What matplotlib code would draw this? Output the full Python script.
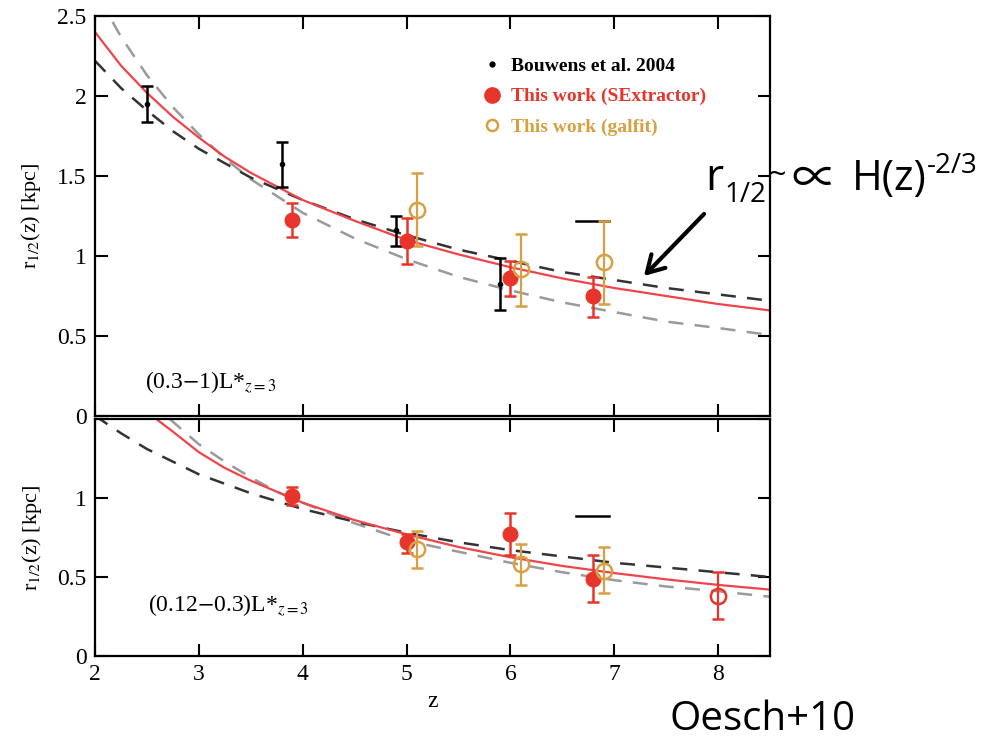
import matplotlib

matplotlib.use("Agg")
import matplotlib.pyplot as plt
from matplotlib.lines import Line2D
from matplotlib.patches import FancyArrowPatch

plt.rcParams["font.family"] = ["Liberation Serif", "DejaVu Serif"]
plt.rcParams["mathtext.fontset"] = "stix"

RED = "#e8352b"
GOLD = "#d6a043"

# ---- top panel: (0.3-1) L*_{z=3} ----
bou_z = [2.5, 3.8, 4.9, 5.9]
bou_r = [1.95, 1.575, 1.16, 0.825]
bou_lo = [0.11, 0.145, 0.10, 0.165]
bou_hi = [0.11, 0.135, 0.09, 0.165]

sex_z = [3.9, 5.0, 6.0, 6.8]
sex_r = [1.225, 1.095, 0.86, 0.75]
sex_lo = [0.105, 0.145, 0.11, 0.13]
sex_hi = [0.105, 0.145, 0.11, 0.12]

gal_z = [5.1, 6.1, 6.9]
gal_r = [1.29, 0.92, 0.96]
gal_lo = [0.23, 0.23, 0.26]
gal_hi = [0.23, 0.22, 0.26]

# stray black bar near z~6.8
bar_top_z = [6.63, 6.95]
bar_top_r = [1.22, 1.22]

# curves
curve_z = [2.0, 2.25, 2.5, 2.75, 3.0, 3.25, 3.5, 4.0, 4.5, 5.0, 5.5, 6.0, 6.5, 7.0, 7.5, 8.0, 8.5]
top_fit = [2.40, 2.19, 2.02, 1.87, 1.74, 1.62, 1.52, 1.35, 1.22, 1.10, 1.01, 0.93, 0.86,
           0.80, 0.75, 0.70, 0.66]
top_black = [2.22, 2.05, 1.91, 1.78, 1.67, 1.58, 1.49, 1.35, 1.23, 1.13, 1.04, 0.97, 0.90,
             0.85, 0.80, 0.76, 0.72]
top_gray = [2.66, 2.37, 2.13, 1.93, 1.76, 1.61, 1.48, 1.27, 1.11, 0.98, 0.87, 0.785, 0.71,
            0.65, 0.59, 0.55, 0.506]

# ---- bottom panel: (0.12-0.3) L*_{z=3} ----
sex2_z = [3.9, 5.0, 6.0, 6.8]
sex2_r = [1.01, 0.72, 0.77, 0.49]
sex2_lo = [0.055, 0.07, 0.13, 0.15]
sex2_hi = [0.06, 0.05, 0.135, 0.15]

z8_z = [8.0]
z8_r = [0.38]
z8_lo = [0.145]
z8_hi = [0.15]

gal2_z = [5.1, 6.1, 6.9]
gal2_r = [0.675, 0.58, 0.54]
gal2_lo = [0.115, 0.13, 0.14]
gal2_hi = [0.115, 0.13, 0.15]

bar_bot_z = [6.63, 6.95]
bar_bot_r = [0.885, 0.885]

fit2_z = [2.59, 2.75, 3.0, 3.25, 3.5, 3.75, 4.0, 4.5, 5.0, 5.5, 6.0, 6.5, 7.0, 7.5, 8.0, 8.5]
fit2_r = [1.50, 1.42, 1.29, 1.19, 1.11, 1.04, 0.97, 0.86, 0.77, 0.69, 0.625, 0.57, 0.525,
          0.485, 0.45, 0.42]
black2_z = [2.0, 2.25, 2.5, 2.75, 3.0, 3.25, 3.5, 3.75, 4.0, 4.5, 5.0, 5.5, 6.0, 6.5, 7.0,
            7.5, 8.0, 8.5]
black2_r = [1.52, 1.41, 1.31, 1.23, 1.15, 1.09, 1.03, 0.98, 0.93, 0.85, 0.78, 0.72, 0.67,
            0.63, 0.59, 0.56, 0.53, 0.50]
gray2_z = [2.72, 3.0, 3.25, 3.5, 3.75, 4.0, 4.5, 5.0, 5.5, 6.0, 6.5, 7.0, 7.5, 8.0, 8.5]
gray2_r = [1.50, 1.34, 1.23, 1.13, 1.04, 0.97, 0.84, 0.73, 0.66, 0.59, 0.53, 0.48, 0.44,
           0.41, 0.375]

W, H = 983, 739
fig = plt.figure(figsize=(W / 100, H / 100), dpi=100)
ax1 = fig.add_axes([95 / W, (H - 416) / H, 675 / W, 400 / H])
ax2 = fig.add_axes([95 / W, (H - 656) / H, 675 / W, 237 / H])

dash = (0, (6, 4.5))


def style(ax):
    for s in ax.spines.values():
        s.set_linewidth(1.6)
    ax.tick_params(direction="in", length=9, width=1.5, top=True, right=True,
                   labelsize=17, pad=6)
    ax.set_xlim(2, 8.5)
    ax.set_xticks([2, 3, 4, 5, 6, 7, 8])


# top panel
ax1.plot(curve_z, top_gray, ls=dash, color="#9a9a9a", lw=1.8)
ax1.plot(curve_z, top_black, ls=dash, color="#333333", lw=1.8)
ax1.plot(curve_z, top_fit, color="#f0444a", lw=1.6)
ax1.errorbar(bou_z, bou_r, yerr=[bou_lo, bou_hi], fmt="o", color="black", ms=3,
             elinewidth=1.8, capsize=4, capthick=1.8)
ax1.plot(bar_top_z, bar_top_r, color="black", lw=1.8)
ax1.errorbar(sex_z, sex_r, yerr=[sex_lo, sex_hi], fmt="o", color=RED, ms=10.5,
             elinewidth=1.8, capsize=4.5, capthick=1.8)
ax1.errorbar(gal_z, gal_r, yerr=[gal_lo, gal_hi], fmt="o", color=GOLD, mfc="none",
             mew=1.8, ms=11, elinewidth=1.6, capsize=4, capthick=1.6)
style(ax1)
ax1.set_ylim(0, 2.5)
ax1.set_yticks([0, 0.5, 1, 1.5, 2, 2.5])
ax1.set_yticklabels(["0", "0.5", "1", "1.5", "2", "2.5"])
ax1.tick_params(labelbottom=False)
ax1.set_ylabel(r"r$_{1/2}$(z) [kpc]", fontsize=16, labelpad=10)
ax1.text(0.074, 0.085, r"(0.3$-$1)L*$_{z=3}$", transform=ax1.transAxes,
         fontsize=17, va="center")

handles = [
    Line2D([], [], ls="none", marker="o", ms=3.5, color="black"),
    Line2D([], [], ls="none", marker="o", ms=11, color=RED),
    Line2D([], [], ls="none", marker="o", ms=8, mfc="none", mew=1.8, color=GOLD),
]
ax1.legend(handles, ["Bouwens et al. 2004", "This work (SExtractor)", "This work (galfit)"],
           loc="upper left", bbox_to_anchor=(0.55, 0.94), frameon=False,
           prop={"weight": "bold", "size": 14}, handlelength=0.8, handletextpad=0.6,
           labelspacing=0.65, labelcolor=["black", RED, GOLD])

# bottom panel
ax2.plot(gray2_z, gray2_r, ls=dash, color="#9a9a9a", lw=1.8)
ax2.plot(black2_z, black2_r, ls=dash, color="#333333", lw=1.8)
ax2.plot(fit2_z, fit2_r, color="#f0444a", lw=1.6)
ax2.plot(bar_bot_z, bar_bot_r, color="black", lw=1.8)
ax2.errorbar(sex2_z, sex2_r, yerr=[sex2_lo, sex2_hi], fmt="o", color=RED, ms=10.5,
             elinewidth=1.8, capsize=4.5, capthick=1.8)
ax2.errorbar(z8_z, z8_r, yerr=[z8_lo, z8_hi], fmt="o", color=RED, mfc="none",
             mew=1.8, ms=11, elinewidth=1.6, capsize=4.5, capthick=1.6)
ax2.errorbar(gal2_z, gal2_r, yerr=[gal2_lo, gal2_hi], fmt="o", color=GOLD, mfc="none",
             mew=1.8, ms=11, elinewidth=1.6, capsize=4, capthick=1.6)
style(ax2)
ax2.set_ylim(0, 1.5)
ax2.set_yticks([0, 0.5, 1, 1.5])
ax2.set_yticklabels(["0", "0.5", "1", ""])
ax2.set_xticklabels(["2", "3", "4", "5", "6", "7", "8"])
ax2.set_xlabel("z", fontsize=17, labelpad=4)
ax2.set_ylabel(r"r$_{1/2}$(z) [kpc]", fontsize=16, labelpad=10)
ax2.text(0.078, 0.215, r"(0.12$-$0.3)L*$_{z=3}$", transform=ax2.transAxes,
         fontsize=17, va="center")

# slide annotations
sans = ["Open Sans", "DejaVu Sans"]


def ftext(x, y, s, size, fam=sans):
    fig.text(x / W, 1 - y / H, s, fontsize=size, family=fam, va="baseline", ha="left")


ftext(705, 190, "r", 32)
ftext(768, 184, "~", 22)
ftext(724, 202, "1/2", 20)
ftext(791, 193, "\u221d", 33, ["Noto Sans CJK JP", "DejaVu Sans"])
ftext(852, 190, "H(z)", 30)
ftext(927, 173, "-2/3", 20)
ftext(670, 730, "Oesch+10", 29)

fig.add_artist(FancyArrowPatch(
    (706 / W, 1 - 212 / H), (642 / W, 1 - 278 / H), transform=fig.transFigure,
    arrowstyle="->,head_length=12,head_width=7", lw=3, color="black",
    mutation_scale=1))

fig.savefig("out.png", dpi=100)
